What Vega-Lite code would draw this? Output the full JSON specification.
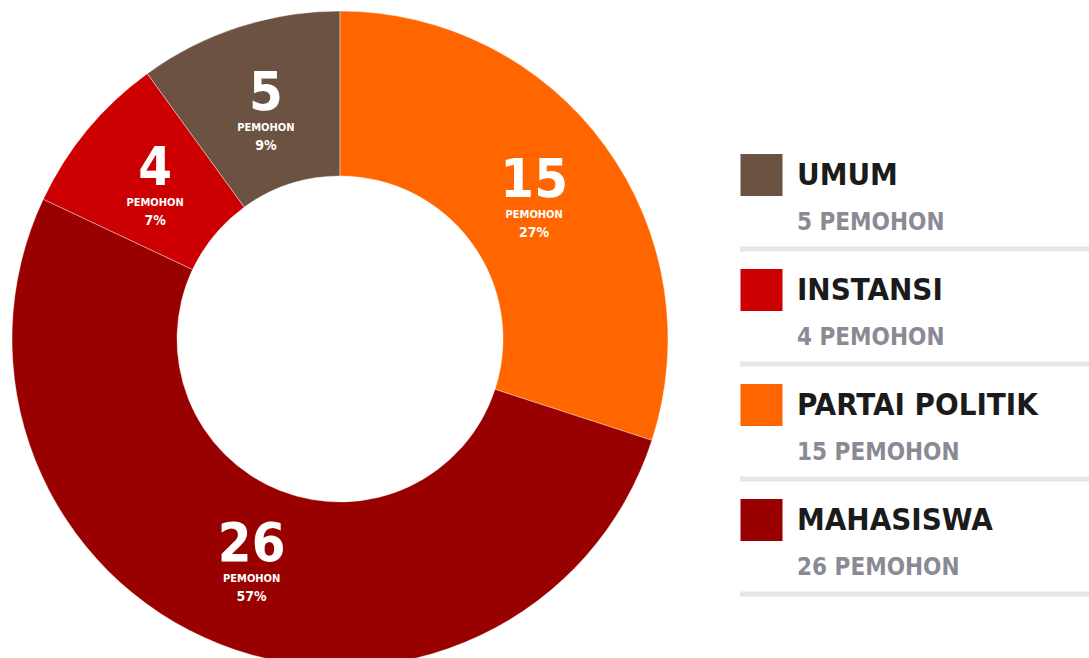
{
  "$schema": "https://vega.github.io/schema/vega-lite/v6.json",
  "padding": 0,
  "spacing": 0,
  "background": "#ffffff",
  "config": {"view": {"stroke": null}, "concat": {"spacing": 0}},
  "datasets": {
    "pemohon": [
      {"kategori": "UMUM", "jumlah": 5, "persen": "9%", "urut": 4, "ket": "5 PEMOHON"},
      {"kategori": "INSTANSI", "jumlah": 4, "persen": "7%", "urut": 3, "ket": "4 PEMOHON"},
      {"kategori": "PARTAI POLITIK", "jumlah": 15, "persen": "27%", "urut": 1, "ket": "15 PEMOHON"},
      {"kategori": "MAHASISWA", "jumlah": 26, "persen": "57%", "urut": 2, "ket": "26 PEMOHON"}
    ]
  },
  "hconcat": [
    {
      "width": 680,
      "height": 678,
      "data": {"name": "pemohon"},
      "encoding": {
        "theta": {"field": "jumlah", "type": "quantitative", "stack": true},
        "order": {"field": "urut", "type": "quantitative"}
      },
      "layer": [
        {
          "mark": {"type": "arc", "outerRadius": 328, "innerRadius": 163, "stroke": "#ffffff", "strokeWidth": 0.4},
          "encoding": {
            "color": {
              "field": "kategori", "type": "nominal",
              "scale": {"domain": ["UMUM", "INSTANSI", "PARTAI POLITIK", "MAHASISWA"], "range": ["#6b5243", "#cc0000", "#ff6600", "#990000"]},
              "legend": null
            }
          }
        },
        {
          "mark": {"type": "text", "radius": 240, "font": "DejaVu Sans Condensed", "fontWeight": "bold", "fontSize": 54, "fill": "#ffffff", "baseline": "bottom", "align": "center", "dy": 10},
          "encoding": {"text": {"field": "jumlah", "type": "quantitative"}}
        },
        {
          "mark": {"type": "text", "radius": 240, "font": "DejaVu Sans Condensed", "fontWeight": "bold", "fontSize": 11, "fill": "#ffffff", "baseline": "top", "align": "center", "dy": 11},
          "encoding": {"text": {"value": "PEMOHON"}}
        },
        {
          "mark": {"type": "text", "radius": 240, "font": "DejaVu Sans Condensed", "fontWeight": "bold", "fontSize": 14, "fill": "#ffffff", "baseline": "top", "align": "center", "dy": 28},
          "encoding": {"text": {"field": "persen", "type": "nominal"}}
        }
      ]
    },
    {
      "width": 409,
      "height": 678,
      "data": {"name": "pemohon"},
      "encoding": {
        "y": {
          "field": "kategori", "type": "nominal", "axis": null,
          "scale": {"type": "band", "domain": ["UMUM", "INSTANSI", "PARTAI POLITIK", "MAHASISWA"], "range": [134, 594], "paddingInner": 0, "paddingOuter": 0}
        }
      },
      "layer": [
        {
          "mark": {"type": "rule", "strokeWidth": 5, "color": "#e6e6e8"},
          "encoding": {
            "x": {"datum": 60, "type": "quantitative", "axis": null, "scale": {"domain": [0, 409], "nice": false, "zero": false}},
            "x2": {"datum": 409},
            "y": {"field": "kategori", "type": "nominal", "bandPosition": 1, "axis": null}
          }
        },
        {
          "mark": {"type": "square", "size": 1764, "opacity": 1, "filled": true},
          "encoding": {
            "x": {"datum": 81.5, "type": "quantitative"},
            "y": {"field": "kategori", "type": "nominal", "bandPosition": 0.357, "axis": null},
            "color": {
              "field": "kategori", "type": "nominal",
              "scale": {"domain": ["UMUM", "INSTANSI", "PARTAI POLITIK", "MAHASISWA"], "range": ["#6b5243", "#cc0000", "#ff6600", "#990000"]},
              "legend": null
            }
          }
        },
        {
          "mark": {"type": "text", "font": "DejaVu Sans Condensed", "fontWeight": "bold", "fontSize": 31, "fill": "#1b1b1b", "align": "left", "baseline": "alphabetic"},
          "encoding": {
            "x": {"datum": 117, "type": "quantitative"},
            "y": {"field": "kategori", "type": "nominal", "bandPosition": 0.443, "axis": null},
            "text": {"field": "kategori", "type": "nominal"}
          }
        },
        {
          "mark": {"type": "text", "font": "DejaVu Sans Condensed", "fontWeight": "bold", "fontSize": 24, "fill": "#8a8a94", "align": "left", "baseline": "alphabetic"},
          "encoding": {
            "x": {"datum": 117, "type": "quantitative"},
            "y": {"field": "kategori", "type": "nominal", "bandPosition": 0.835, "axis": null},
            "text": {"field": "ket", "type": "nominal"}
          }
        }
      ]
    }
  ]
}
